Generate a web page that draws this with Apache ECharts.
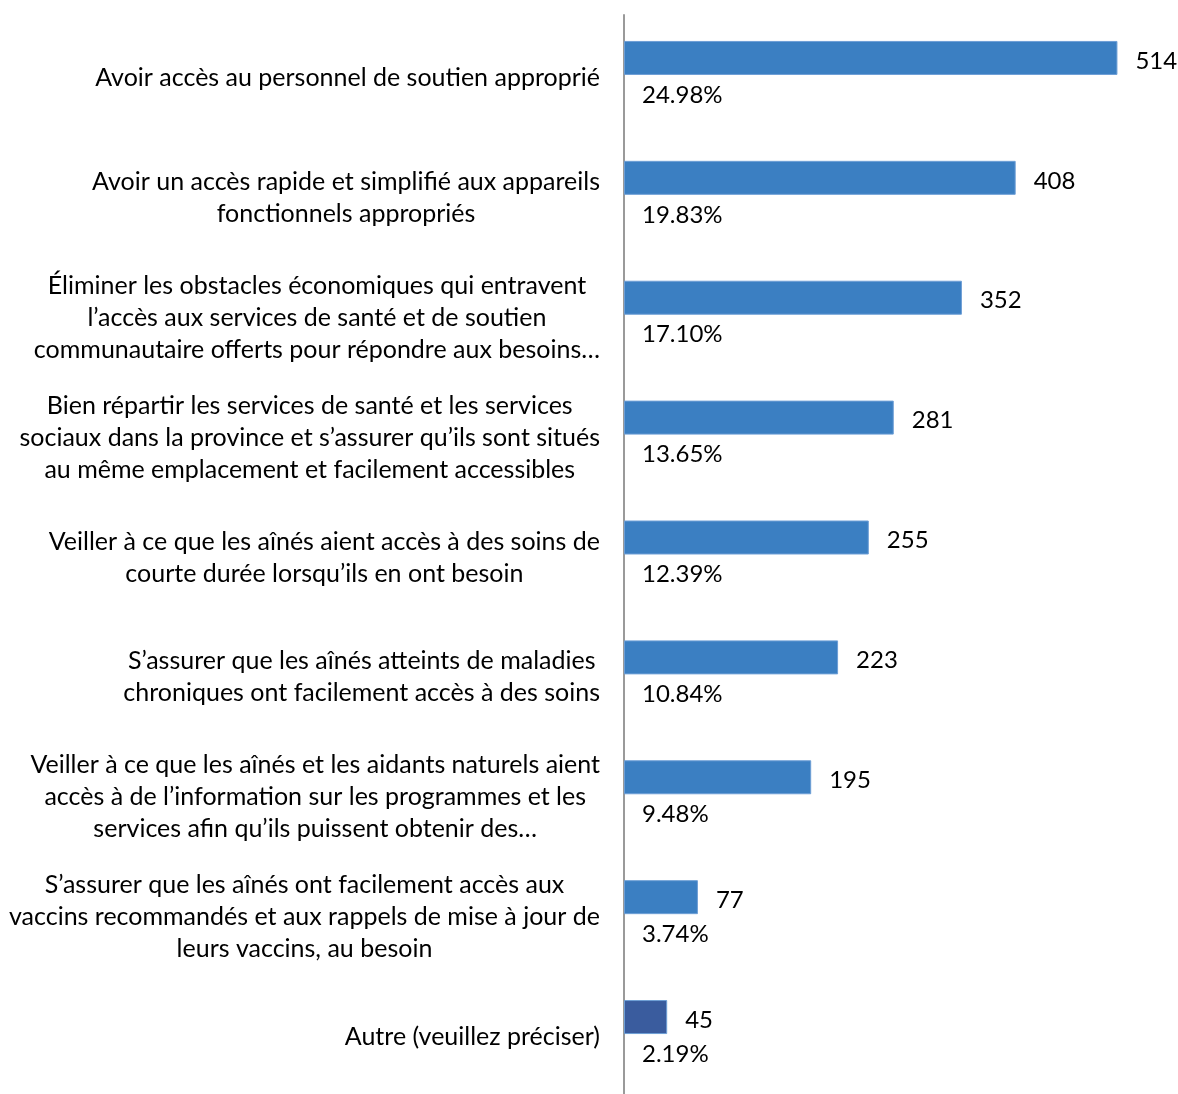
<!DOCTYPE html>
<html>
<head>
<meta charset="utf-8">
<script src="https://cdn.jsdelivr.net/npm/echarts@6/dist/echarts.min.js"></script>
<style>
html,body{margin:0;padding:0;background:#fff;}
#chart{width:1178px;height:1094px;}
</style>
</head>
<body>
<div id="chart"></div>
<script>
const categories = [
  "Avoir accès au personnel de soutien approprié",
  "Avoir un accès rapide et simplifié aux appareils\nfonctionnels appropriés",
  "Éliminer les obstacles économiques qui entravent\nl’accès aux services de santé et de soutien\ncommunautaire offerts pour répondre aux besoins…",
  "Bien répartir les services de santé et les services\nsociaux dans la province et s’assurer qu’ils sont situés\nau même emplacement et facilement accessibles",
  "Veiller à ce que les aînés aient accès à des soins de\ncourte durée lorsqu’ils en ont besoin",
  "S’assurer que les aînés atteints de maladies\nchroniques ont facilement accès à des soins",
  "Veiller à ce que les aînés et les aidants naturels aient\naccès à de l’information sur les programmes et les\nservices afin qu’ils puissent obtenir des…",
  "S’assurer que les aînés ont facilement accès aux\nvaccins recommandés et aux rappels de mise à jour de\nleurs vaccins, au besoin",
  "Autre (veuillez préciser)"
];
const counts = [514, 408, 352, 281, 255, 223, 195, 77, 45];
const percents = [24.98, 19.83, 17.10, 13.65, 12.39, 10.84, 9.48, 3.74, 2.19];

const FONT = 'Lato';
const FS = 24;
const CAT_FS = 25;
const mainColor = '#3B7FC2';
const otherColor = '#3A5C9E';

const chart = echarts.init(document.getElementById('chart'), null, {renderer: 'canvas'});
chart.setOption({
  animation: false,
  grid: {left: 624, top: 15, height: 1082, width: 528},
  xAxis: {
    type: 'value', min: 0, max: 550,
    show: false
  },
  yAxis: {
    type: 'category',
    data: categories,
    inverse: true,
    axisLine: {show: true, lineStyle: {color: '#9A9A9A', width: 2}},
    axisTick: {show: false},
    axisLabel: {
      margin: 24,
      align: 'right',
      padding: [6, 0, 0, 0],
      formatter: v => v.split('\n').map(l => '{c|' + l + '}').join('\n'),
      rich: {
        c: {align: 'center', fontFamily: FONT, fontSize: CAT_FS, lineHeight: 32, color: '#000'}
      }
    }
  },
  series: [
    {
      type: 'bar',
      data: counts.map((v, i) => ({
        value: v,
        itemStyle: {color: i === counts.length - 1 ? otherColor : mainColor}
      })),
      barWidth: 34,
      barGap: '0%',
      itemStyle: {borderColor: '#6E9FD6', borderWidth: 1},
      label: {
        show: true, position: 'right', distance: 18, offset: [0, 3],
        fontFamily: FONT, fontSize: FS, color: '#000'
      }
    },
    {
      type: 'bar',
      data: percents,
      barWidth: 34,
      barGap: '0%',
      itemStyle: {color: 'rgba(0,0,0,0)'},
      label: {
        show: true, position: 'insideLeft', distance: 18, offset: [0, 3],
        fontFamily: FONT, fontSize: FS, color: '#000',
        formatter: p => percents[p.dataIndex].toFixed(2) + '%'
      }
    }
  ]
});
</script>
</body>
</html>
